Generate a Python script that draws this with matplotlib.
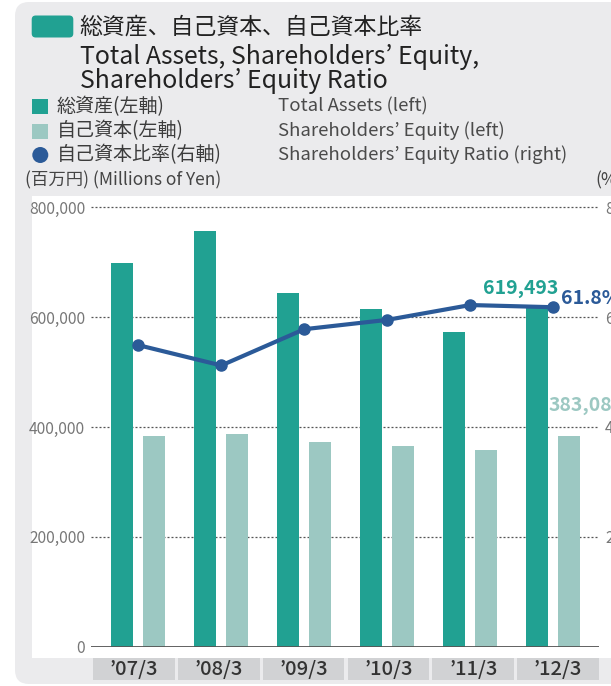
import matplotlib
matplotlib.use('Agg')
import matplotlib.pyplot as plt
from matplotlib.patches import FancyBboxPatch, Rectangle, Circle
import numpy as np

plt.rcParams['font.family'] = ['Noto Sans CJK JP', 'DejaVu Sans']

# ---- data ----
categories = ["’07/3", "’08/3", "’09/3", "’10/3", "’11/3", "’12/3"]
total_assets = [699000, 757000, 644000, 615000, 573000, 619493]
equity = [384000, 388000, 373000, 365000, 358000, 383084]
ratio = [54.9, 51.2, 57.8, 59.5, 62.2, 61.8]
left_ticks = [0, 200000, 400000, 600000, 800000]
left_tick_labels = ["0", "200,000", "400,000", "600,000", "800,000"]
right_ticks = [20, 40, 60, 80]
right_tick_labels = ["20", "40", "60", "80"]

TEAL = '#21a192'
LIGHT = '#9cc8c2'
BLUE = '#2b5a98'
PANEL = '#ebebed'
BOXGRAY = '#d1d2d4'

W, H = 611, 686
fig = plt.figure(figsize=(W / 100, H / 100), dpi=100)
fig.patch.set_facecolor('white')

# background overlay in pixel coordinates
bg = fig.add_axes([0, 0, 1, 1], zorder=0)
bg.set_xlim(0, W)
bg.set_ylim(H, 0)
bg.axis('off')

bg.add_patch(FancyBboxPatch((15, 2), 700, 682,
                            boxstyle='round,pad=0,rounding_size=14',
                            fc=PANEL, ec='none'))
bg.add_patch(Rectangle((31.7, 196), 700, 462, fc='white', ec='none'))

# title
bg.add_patch(FancyBboxPatch((31.7, 15.5), 41.6, 22,
                            boxstyle='round,pad=0,rounding_size=4',
                            fc=TEAL, ec='none'))
bg.text(79.5, 27, "総資産、自己資本、自己資本比率", fontsize=16.5,
        va='center', ha='left', color='#222222')
bg.text(80, 63.5, "Total Assets, Shareholders’ Equity,", fontsize=17.9,
        va='baseline', ha='left', color='#222222')
bg.text(80, 88.5, "Shareholders’ Equity Ratio", fontsize=17.9,
        va='baseline', ha='left', color='#222222')

# legend
rows = [106.5, 131, 155]
bg.add_patch(Rectangle((32.3, rows[0] - 7.5), 16, 15, fc=TEAL, ec='none'))
bg.add_patch(Rectangle((32.3, rows[1] - 7.5), 16, 15, fc=LIGHT, ec='none'))
bg.add_patch(Circle((40.3, rows[2]), 8, fc=BLUE, ec='none'))
legend_jp = ["総資産(左軸)", "自己資本(左軸)", "自己資本比率(右軸)"]
legend_en = ["Total Assets (left)", "Shareholders’ Equity (left)",
             "Shareholders’ Equity Ratio (right)"]
for r, jp, en in zip(rows, legend_jp, legend_en):
    bg.text(56.7, r, jp, fontsize=13.7, va='center', ha='left', color='#3c3c3c')
    bg.text(278.3, r, en, fontsize=13.4, va='center', ha='left', color='#4a4a4a')

bg.text(25, 180, "(百万円) (Millions of Yen)", fontsize=12.5, va='center',
        ha='left', color='#444444')
bg.text(595, 180, "(%)", fontsize=12.5, va='center', ha='left', color='#444444')

# ---- main chart ----
ax = fig.add_axes([91 / W, 1 - 646.7 / H, (599 - 91) / W, (646.7 - 196) / H], zorder=2)
ax.patch.set_alpha(0)
x = np.arange(len(categories))
ax.bar(x - 0.196, total_assets, width=0.272, color=TEAL, zorder=3)
ax.bar(x + 0.187, equity, width=0.272, color=LIGHT, zorder=3)
ax.set_xlim(-0.570, 5.551)
ax.set_ylim(0, 820500)
ax.set_yticks(left_ticks, left_tick_labels)
ax.set_xticks([])
for t in left_ticks[1:]:
    ax.axhline(t, color='#555555', lw=0.9, ls=(0, (1.6, 1.6)), zorder=1)
ax.axhline(0, color='#555555', lw=1.3, zorder=4)
for s in ax.spines.values():
    s.set_visible(False)
ax.tick_params(axis='y', length=0, pad=4.3, labelsize=11.2, labelcolor='#777777')

ax.annotate(f"{total_assets[-1]:,}", xy=(x[-1] - 0.196, total_assets[-1]),
            xytext=(21, 13), textcoords='offset pixels', ha='right', va='baseline',
            fontsize=14, fontweight='bold', color=TEAL, zorder=6)
ax.annotate(f"{equity[-1]:,}", xy=(x[-1] + 0.187, equity[-1]),
            xytext=(-20, 31), textcoords='offset pixels', ha='left', va='center',
            fontsize=14, fontweight='bold', color=LIGHT, zorder=6,
            annotation_clip=False)

ax2 = ax.twinx()
ax2.set_ylim(0, 82.05)
ax2.plot(x, ratio, color=BLUE, lw=3, marker='o', ms=8, zorder=5,
         solid_capstyle='round')
ax2.set_yticks(right_ticks, right_tick_labels)
for s in ax2.spines.values():
    s.set_visible(False)
ax2.tick_params(axis='y', length=0, pad=4.3, labelsize=11.2, labelcolor='#777777')
ax2.annotate(f"{ratio[-1]}%", xy=(x[-1], ratio[-1]), xytext=(8, 8.7),
             textcoords='offset pixels', ha='left', va='center',
             fontsize=14, fontweight='bold', color=BLUE, annotation_clip=False)

# ---- category boxes ----
axc = fig.add_axes([91.5 / W, 1 - 680 / H, 509 / W, (680 - 657.7) / H], zorder=1)
axc.set_xlim(0, len(categories))
axc.set_ylim(0, 1)
axc.axis('off')
for i, c in enumerate(categories):
    axc.add_patch(Rectangle((i + 0.018, 0), 0.964, 1, fc=BOXGRAY, ec='none'))
    axc.text(i + 0.5, 0.48, c, ha='center', va='center', fontsize=14.5,
             fontweight='medium', color='#333333')

fig.savefig('out.png', dpi=100)
